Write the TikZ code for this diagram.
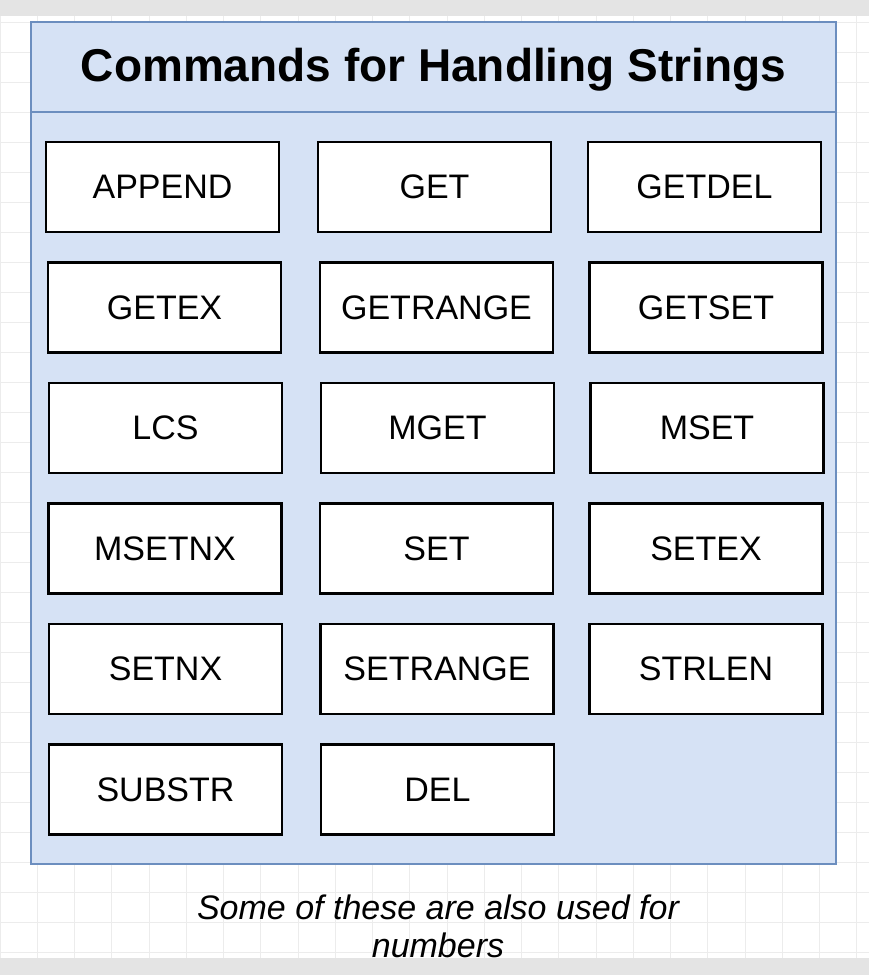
\documentclass[tikz,border=0pt]{standalone}
\usepackage{fontspec}
\setmainfont{Liberation Sans}
\usepackage{tikz}
\usetikzlibrary{positioning}
\usepackage{xcolor}
\definecolor{cmdfill}{RGB}{214,226,245}
\definecolor{cmdedge}{RGB}{108,142,191}
\definecolor{gridgray}{RGB}{236,236,236}
\definecolor{bandgray}{RGB}{228,228,228}
\tikzstyle{cmd} = [draw=black, line width=2.7pt, fill=white, minimum width=233pt, minimum height=90pt, inner sep=0pt, font=\fontsize{34}{40}\selectfont]

\begin{document}
\begin{tikzpicture}[x=1pt, y=-1pt]
\useasboundingbox (0,0) rectangle (869,975);
% Background grid
\fill[white] (0,0) rectangle (869,975);
\foreach \gx in {0,...,23}
  \draw[gridgray, line width=0.8pt] (\gx*37.25,0) -- (\gx*37.25,975);
\foreach \gy in {0,...,32}
  \draw[gridgray, line width=0.8pt] (0,22+\gy*30) -- (869,22+\gy*30);
\fill[bandgray] (0,0) rectangle (869,16);
\fill[bandgray] (0,958) rectangle (869,975);

% Panel
\draw[cmdedge, fill=cmdfill, line width=2pt] (31,22) rectangle (836,864);
\draw[cmdedge, line width=2pt] (31,112) -- (836,112);
\node[font=\fontsize{46}{52}\selectfont\bfseries] (title) at (433.5,70) {Commands for Handling Strings};

% Row 1
\node[cmd] (append) at (162.5,187) {APPEND};
\node[cmd] (get) at (434.5,187) {GET};
\node[cmd] (getdel) at (704.5,187) {GETDEL};

% Row 2
\node[cmd] (getex) at (164.5,307.5) {GETEX};
\node[cmd] (getrange) at (436.5,307.5) {GETRANGE};
\node[cmd] (getset) at (706,307.5) {GETSET};

% Row 3
\node[cmd] (lcs) at (165.5,428) {LCS};
\node[cmd] (mget) at (437.5,428) {MGET};
\node[cmd] (mset) at (707,428) {MSET};

% Row 4
\node[cmd] (msetnx) at (165,548.5) {MSETNX};
\node[cmd] (set) at (436.5,548.5) {SET};
\node[cmd] (setex) at (706,548.5) {SETEX};

% Row 5
\node[cmd] (setnx) at (165.5,669) {SETNX};
\node[cmd] (setrange) at (437,669) {SETRANGE};
\node[cmd] (strlen) at (706,669) {STRLEN};

% Row 6
\node[cmd] (substr) at (165.5,789.5) {SUBSTR};
\node[cmd] (del) at (437.5,789.5) {DEL};

% Note
\node[align=center, font=\fontsize{34}{38}\selectfont\itshape] (note) at (438,926) {Some of these are also used for\\numbers};
\end{tikzpicture}
\end{document}
